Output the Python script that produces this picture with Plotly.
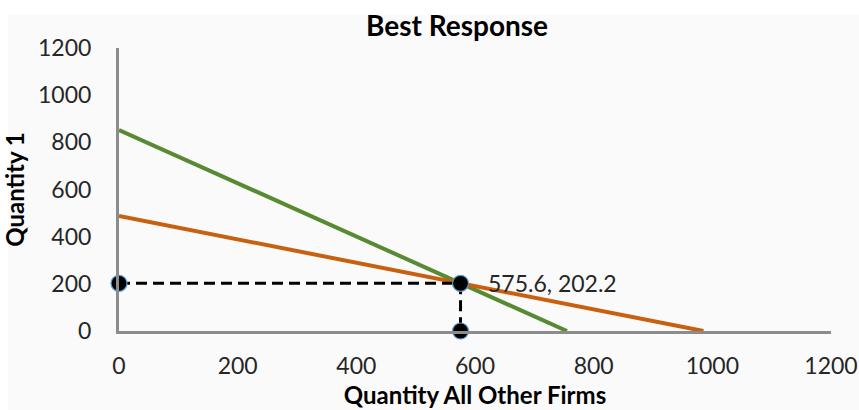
import plotly.graph_objects as go

# Best-response lines (endpoints on the axes)
firm1_x = [0, 755]
firm1_y = [852.4, 0]
others_x = [0, 985]
others_y = [487.6, 0]

# Equilibrium point and its projections onto the axes
eq_x = 575.6
eq_y = 202.2
proj_x = [0, eq_x, eq_x]
proj_y = [eq_y, eq_y, 0]

ticks = [0, 200, 400, 600, 800, 1000, 1200]

FONT = "Lato"
GREEN = "#578a33"
ORANGE = "#c9600f"
AXIS = "#8c8c8c"

fig = go.Figure()

fig.add_trace(go.Scatter(x=firm1_x, y=firm1_y, mode="lines",
                         line=dict(color=GREEN, width=4), showlegend=False))
fig.add_trace(go.Scatter(x=others_x, y=others_y, mode="lines",
                         line=dict(color=ORANGE, width=4), showlegend=False))

# dashed guide lines from the equilibrium to each axis
fig.add_trace(go.Scatter(x=proj_x[:2], y=proj_y[:2], mode="lines",
                         line=dict(color="black", width=3, dash="11px,6px"),
                         showlegend=False))
fig.add_trace(go.Scatter(x=proj_x[1:], y=proj_y[1:], mode="lines",
                         line=dict(color="black", width=3, dash="11px,6px"),
                         showlegend=False))
fig.add_trace(go.Scatter(x=proj_x, y=proj_y, mode="markers",
                         marker=dict(color="black", size=16,
                                     line=dict(color="#5b9bd5", width=1.2)),
                         cliponaxis=False, showlegend=False))

fig.add_annotation(x=eq_x, y=eq_y, text=f"{eq_x}, {eq_y}", showarrow=False,
                   xanchor="left", yanchor="middle", xshift=25,
                   font=dict(family=FONT, size=23, color="#262626"))

# light chart-area background
fig.add_shape(type="rect", xref="paper", yref="paper",
              x0=(8 - 119) / 712, x1=(859 - 119) / 712,
              y0=(331 - 410) / 283, y1=(331 - 15) / 283,
              fillcolor="#fafafa", line=dict(width=0), layer="below")

fig.update_layout(
    width=859, height=410,
    margin=dict(l=119, r=28, t=48, b=79, autoexpand=False),
    paper_bgcolor="white",
    plot_bgcolor="rgba(0,0,0,0)",
    font=dict(family=FONT, size=23, color="#262626"),
    title=dict(text="<b>Best Response</b>", x=457 / 859, xanchor="center",
               xref="container",
               y=1 - 26 / 410, yanchor="middle",
               font=dict(family=FONT, size=28, color="black")),
    xaxis=dict(range=[0, 1200], tickvals=ticks, showgrid=False, zeroline=False,
               showline=True, linecolor=AXIS, linewidth=3, automargin=False,
               ticks="", ticklabelstandoff=12,
               title=dict(text="<b>Quantity All Other Firms</b>", standoff=10,
                          font=dict(family=FONT, size=24, color="black"))),
    yaxis=dict(range=[0, 1200], tickvals=ticks, showgrid=False, zeroline=False,
               showline=True, linecolor=AXIS, linewidth=3, automargin=False,
               ticks="", ticklabelstandoff=20,
               title=dict(text="<b>Quantity 1</b>", standoff=16,
                          font=dict(family=FONT, size=24, color="black"))),
)

fig.write_html("out.html")
